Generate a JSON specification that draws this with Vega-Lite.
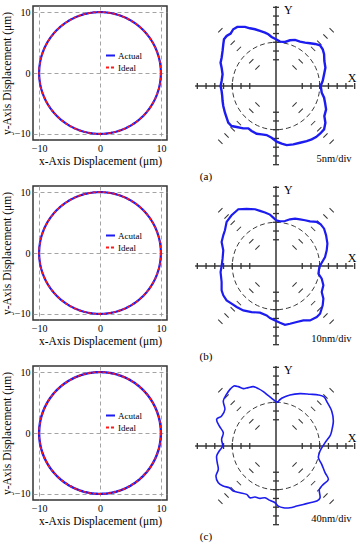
{
 "$schema": "https://vega.github.io/schema/vega-lite/v6.json",
 "padding": {"left": 0, "top": 4, "right": 0, "bottom": 0},
 "background": "white",
 "datasets": {
  "circle": [{"x":10,"y":0},{"x":9.962,"y":0.872},{"x":9.848,"y":1.736},{"x":9.659,"y":2.588},{"x":9.397,"y":3.42},{"x":9.063,"y":4.226},{"x":8.66,"y":5},{"x":8.192,"y":5.736},{"x":7.66,"y":6.428},{"x":7.071,"y":7.071},{"x":6.428,"y":7.66},{"x":5.736,"y":8.192},{"x":5,"y":8.66},{"x":4.226,"y":9.063},{"x":3.42,"y":9.397},{"x":2.588,"y":9.659},{"x":1.736,"y":9.848},{"x":0.872,"y":9.962},{"x":0,"y":10},{"x":-0.872,"y":9.962},{"x":-1.736,"y":9.848},{"x":-2.588,"y":9.659},{"x":-3.42,"y":9.397},{"x":-4.226,"y":9.063},{"x":-5,"y":8.66},{"x":-5.736,"y":8.192},{"x":-6.428,"y":7.66},{"x":-7.071,"y":7.071},{"x":-7.66,"y":6.428},{"x":-8.192,"y":5.736},{"x":-8.66,"y":5},{"x":-9.063,"y":4.226},{"x":-9.397,"y":3.42},{"x":-9.659,"y":2.588},{"x":-9.848,"y":1.736},{"x":-9.962,"y":0.872},{"x":-10,"y":0},{"x":-9.962,"y":-0.872},{"x":-9.848,"y":-1.736},{"x":-9.659,"y":-2.588},{"x":-9.397,"y":-3.42},{"x":-9.063,"y":-4.226},{"x":-8.66,"y":-5},{"x":-8.192,"y":-5.736},{"x":-7.66,"y":-6.428},{"x":-7.071,"y":-7.071},{"x":-6.428,"y":-7.66},{"x":-5.736,"y":-8.192},{"x":-5,"y":-8.66},{"x":-4.226,"y":-9.063},{"x":-3.42,"y":-9.397},{"x":-2.588,"y":-9.659},{"x":-1.736,"y":-9.848},{"x":-0.872,"y":-9.962},{"x":0,"y":-10},{"x":0.872,"y":-9.962},{"x":1.736,"y":-9.848},{"x":2.588,"y":-9.659},{"x":3.42,"y":-9.397},{"x":4.226,"y":-9.063},{"x":5,"y":-8.66},{"x":5.736,"y":-8.192},{"x":6.428,"y":-7.66},{"x":7.071,"y":-7.071},{"x":7.66,"y":-6.428},{"x":8.192,"y":-5.736},{"x":8.66,"y":-5},{"x":9.063,"y":-4.226},{"x":9.397,"y":-3.42},{"x":9.659,"y":-2.588},{"x":9.848,"y":-1.736},{"x":9.962,"y":-0.872},{"x":10,"y":0}],
  "curveA": [{"x":0,"y":10.68},{"x":0.92,"y":10.16},{"x":2.06,"y":10.08},{"x":3.2,"y":10.46},{"x":4.36,"y":10.54},{"x":5.5,"y":10.16},{"x":6.64,"y":9.92},{"x":7.78,"y":9.78},{"x":8.94,"y":9.62},{"x":10.08,"y":9.32},{"x":10.68,"y":8.4},{"x":11.0,"y":7.26},{"x":11.06,"y":5.72},{"x":11.3,"y":4.2},{"x":11.0,"y":2.68},{"x":10.68,"y":1.14},{"x":10.22,"y":0},{"x":10.46,"y":-1.52},{"x":11.0,"y":-2.68},{"x":11.22,"y":-3.82},{"x":11.46,"y":-5.34},{"x":11.06,"y":-6.88},{"x":11.3,"y":-8.4},{"x":11.0,"y":-9.92},{"x":10.08,"y":-10.92},{"x":9.16,"y":-11.68},{"x":8.16,"y":-12.22},{"x":7.02,"y":-12.6},{"x":5.5,"y":-12.98},{"x":3.96,"y":-13.36},{"x":2.44,"y":-13.52},{"x":1.3,"y":-13.2},{"x":0.16,"y":-12.74},{"x":-1.0,"y":-11.84},{"x":-2.14,"y":-11.22},{"x":-3.28,"y":-11.06},{"x":-4.42,"y":-10.92},{"x":-5.58,"y":-10.3},{"x":-6.34,"y":-9.7},{"x":-7.48,"y":-9.7},{"x":-9.0,"y":-9.38},{"x":-10.16,"y":-9.16},{"x":-10.92,"y":-8.4},{"x":-11.3,"y":-7.26},{"x":-11.68,"y":-6.1},{"x":-12.06,"y":-4.58},{"x":-12.22,"y":-3.44},{"x":-12.3,"y":-2.3},{"x":-12.44,"y":-1.14},{"x":-12.68,"y":0},{"x":-12.44,"y":1.14},{"x":-12.22,"y":2.68},{"x":-12.44,"y":4.2},{"x":-12.68,"y":5.34},{"x":-12.44,"y":6.48},{"x":-12.22,"y":8.02},{"x":-12.06,"y":9.54},{"x":-11.9,"y":10.68},{"x":-11.3,"y":11.46},{"x":-10.38,"y":11.98},{"x":-9.78,"y":12.98},{"x":-8.86,"y":13.52},{"x":-7.1,"y":13.52},{"x":-5.96,"y":13.2},{"x":-4.8,"y":12.98},{"x":-3.66,"y":12.6},{"x":-2.52,"y":12.22},{"x":-1.76,"y":11.84},{"x":-1.0,"y":11.22},{"x":0,"y":10.68}],
  "curveB": [{"x":0,"y":10.46},{"x":0.92,"y":10.22},{"x":2.06,"y":10.3},{"x":3.2,"y":10.68},{"x":4.36,"y":10.84},{"x":5.5,"y":10.68},{"x":6.64,"y":10.46},{"x":7.78,"y":10.22},{"x":9.32,"y":10.08},{"x":10.22,"y":9.54},{"x":11.0,"y":8.54},{"x":11.46,"y":7.02},{"x":11.76,"y":5.12},{"x":11.6,"y":3.58},{"x":11.22,"y":2.06},{"x":10.46,"y":0.76},{"x":9.92,"y":-0.22},{"x":9.7,"y":-1.76},{"x":10.46,"y":-2.9},{"x":10.84,"y":-4.42},{"x":10.46,"y":-5.96},{"x":10.84,"y":-7.48},{"x":10.68,"y":-9.0},{"x":10.08,"y":-10.92},{"x":9.32,"y":-11.68},{"x":7.78,"y":-12.44},{"x":6.26,"y":-12.44},{"x":4.74,"y":-12.82},{"x":3.2,"y":-13.2},{"x":2.06,"y":-13.44},{"x":0.92,"y":-12.98},{"x":-0.22,"y":-12.44},{"x":-1.38,"y":-11.9},{"x":-2.14,"y":-11.3},{"x":-3.66,"y":-10.68},{"x":-5.58,"y":-10.54},{"x":-7.48,"y":-10.16},{"x":-9.0,"y":-9.38},{"x":-10.16,"y":-8.62},{"x":-11.3,"y":-7.86},{"x":-12.06,"y":-6.72},{"x":-12.44,"y":-5.58},{"x":-12.44,"y":-3.66},{"x":-12.68,"y":-1.38},{"x":-12.44,"y":0},{"x":-12.22,"y":1.68},{"x":-12.06,"y":3.58},{"x":-12.44,"y":5.5},{"x":-12.06,"y":7.02},{"x":-11.68,"y":8.16},{"x":-11.3,"y":10.08},{"x":-10.16,"y":11.6},{"x":-8.62,"y":12.98},{"x":-6.72,"y":13.06},{"x":-4.8,"y":12.98},{"x":-3.66,"y":12.6},{"x":-2.52,"y":12.22},{"x":-1.38,"y":11.76},{"x":-0.62,"y":11.06},{"x":0,"y":10.46}],
  "curveC": [{"x":0.3,"y":9.92},{"x":1.3,"y":10.92},{"x":3.2,"y":11.68},{"x":5.5,"y":11.98},{"x":7.78,"y":11.84},{"x":9.7,"y":11.68},{"x":11.0,"y":11.22},{"x":11.76,"y":9.92},{"x":12.74,"y":8.02},{"x":13.12,"y":5.72},{"x":12.74,"y":3.44},{"x":12.36,"y":2.3},{"x":11.22,"y":0.76},{"x":10.08,"y":-1.14},{"x":9.7,"y":-2.68},{"x":10.46,"y":-4.2},{"x":11.22,"y":-6.1},{"x":11.98,"y":-7.64},{"x":10.84,"y":-8.78},{"x":9.92,"y":-9.92},{"x":10.08,"y":-11.84},{"x":9.32,"y":-12.6},{"x":7.78,"y":-12.98},{"x":6.26,"y":-13.36},{"x":4.74,"y":-13.74},{"x":3.2,"y":-14.12},{"x":1.68,"y":-14.12},{"x":0.54,"y":-13.74},{"x":-0.22,"y":-12.98},{"x":-1.38,"y":-12.44},{"x":-2.52,"y":-11.84},{"x":-3.66,"y":-11.98},{"x":-4.8,"y":-11.68},{"x":-5.96,"y":-11.84},{"x":-6.72,"y":-11.06},{"x":-8.24,"y":-10.68},{"x":-9.78,"y":-10.3},{"x":-10.68,"y":-9.54},{"x":-12.06,"y":-9.16},{"x":-13.2,"y":-8.4},{"x":-13.74,"y":-6.88},{"x":-13.2,"y":-5.34},{"x":-13.44,"y":-3.82},{"x":-13.58,"y":-2.3},{"x":-12.98,"y":-1.14},{"x":-12.22,"y":0},{"x":-12.44,"y":1.52},{"x":-12.06,"y":3.06},{"x":-12.98,"y":4.58},{"x":-13.58,"y":6.1},{"x":-12.44,"y":6.88},{"x":-11.68,"y":8.4},{"x":-12.06,"y":10.3},{"x":-11.3,"y":11.84},{"x":-10.38,"y":13.12},{"x":-9.62,"y":13.74},{"x":-8.62,"y":13.58},{"x":-7.48,"y":13.12},{"x":-6.34,"y":13.36},{"x":-5.2,"y":13.58},{"x":-4.04,"y":13.12},{"x":-2.9,"y":12.44},{"x":-1.98,"y":11.68},{"x":-1.0,"y":10.92},{"x":-0.22,"y":10.3},{"x":0.3,"y":9.92}],
  "axes": [{"x":-18.5,"x2":17.7,"y":0,"y2":0},{"x":0,"x2":0,"y":-17.9,"y2":18.3}],
  "xticks": [{"x":-18,"y":0},{"x":-16,"y":0},{"x":-14,"y":0},{"x":-12,"y":0},{"x":-10,"y":0},{"x":-8,"y":0},{"x":-6,"y":0},{"x":6,"y":0},{"x":8,"y":0},{"x":10,"y":0},{"x":12,"y":0},{"x":14,"y":0},{"x":16,"y":0},{"x":18,"y":0}],
  "yticks": [{"x":0,"y":-18},{"x":0,"y":-16},{"x":0,"y":-14},{"x":0,"y":-12},{"x":0,"y":-10},{"x":0,"y":-8},{"x":0,"y":-6},{"x":0,"y":6},{"x":0,"y":8},{"x":0,"y":10},{"x":0,"y":12},{"x":0,"y":14},{"x":0,"y":16},{"x":0,"y":18}],
  "diagA": [{"x":4.24,"y":4.24},{"x":5.66,"y":5.66},{"x":8.49,"y":8.49},{"x":9.9,"y":9.9},{"x":11.31,"y":11.31},{"x":12.73,"y":12.73},{"x":-4.24,"y":-4.24},{"x":-5.66,"y":-5.66},{"x":-8.49,"y":-8.49},{"x":-9.9,"y":-9.9},{"x":-11.31,"y":-11.31},{"x":-12.73,"y":-12.73}],
  "diagB": [{"x":-4.24,"y":4.24},{"x":-5.66,"y":5.66},{"x":-8.49,"y":8.49},{"x":-9.9,"y":9.9},{"x":-11.31,"y":11.31},{"x":-12.73,"y":12.73},{"x":4.24,"y":-4.24},{"x":5.66,"y":-5.66},{"x":8.49,"y":-8.49},{"x":9.9,"y":-9.9},{"x":11.31,"y":-11.31},{"x":12.73,"y":-12.73}],
  "xy": [{"x":17.4,"y":1.9,"t":"X"},{"x":2.8,"y":17.3,"t":"Y"}]
 },
 "spacing": 1,
 "resolve": {"scale": {"color": "independent", "strokeDash": "independent"}, "legend": {"color": "independent", "strokeDash": "independent"}},
 "vconcat": [
  {
   "spacing": 29, "bounds": "flush",
   "title": {"text": "(a)", "orient": "bottom", "anchor": "middle", "frame": "bounds", "offset": 4, "dx": 27},
   "resolve": {"scale": {"color": "independent", "strokeDash": "independent"}, "legend": {"color": "independent", "strokeDash": "independent"}},
   "hconcat": [
    {
     "width": 134, "height": 134,
     "layer": [
      {"data": {"name": "circle"}, "mark": {"type": "line", "strokeWidth": 2.2},
       "encoding": {
        "x": {"field": "x", "type": "quantitative", "scale": {"domain": [-11, 11], "nice": false}, "axis": {"values": [-10,-5,0,5,10], "title": "x-Axis Displacement (μm)"}},
        "y": {"field": "y", "type": "quantitative", "scale": {"domain": [-11, 11], "nice": false}, "axis": {"values": [-10,-5,0,5,10], "title": "y-Axis Displacement (μm)"}},
        "order": {"value": null},
        "color": {"datum": "Actual", "type": "nominal", "scale": {"domain": ["Actual","Ideal"], "range": ["#1c1cf0","#ff1a1a"]}, "legend": {"title": null, "orient": "none", "legendX": 72, "legendY": 44}},
        "strokeDash": {"datum": "Actual", "type": "nominal", "scale": {"domain": ["Actual","Ideal"], "range": [[1,0],[3,2]]}, "legend": {"title": null, "orient": "none", "legendX": 72, "legendY": 44}}
       }},
      {"data": {"name": "circle"}, "mark": {"type": "line", "strokeWidth": 1.6},
       "encoding": {
        "x": {"field": "x", "type": "quantitative"},
        "y": {"field": "y", "type": "quantitative"},
        "order": {"value": null},
        "color": {"datum": "Ideal", "type": "nominal"},
        "strokeDash": {"datum": "Ideal", "type": "nominal"}
       }}
     ]
    },
    {
     "width": 160, "height": 160, "view": {"stroke": null},
     "layer": [
      {"data": {"name": "circle"}, "mark": {"type": "line", "color": "#222", "strokeWidth": 0.9, "strokeDash": [5,3]},
       "encoding": {"x": {"field": "x", "type": "quantitative", "scale": {"domain": [-18.3, 18.3], "nice": false}, "axis": null}, "y": {"field": "y", "type": "quantitative", "scale": {"domain": [-18.3, 18.3], "nice": false}, "axis": null}, "order": {"value": null}}},
      {"data": {"name": "axes"}, "mark": {"type": "rule", "color": "#333", "strokeWidth": 1.5},
       "encoding": {"x": {"field": "x", "type": "quantitative"}, "x2": {"field": "x2"}, "y": {"field": "y", "type": "quantitative"}, "y2": {"field": "y2"}}},
      {"data": {"name": "xticks"}, "mark": {"type": "point", "shape": "stroke", "angle": 90, "size": 36, "color": "#333", "strokeWidth": 1.3, "filled": false, "opacity": 1},
       "encoding": {"x": {"field": "x", "type": "quantitative"}, "y": {"field": "y", "type": "quantitative"}}},
      {"data": {"name": "yticks"}, "mark": {"type": "point", "shape": "stroke", "angle": 0, "size": 36, "color": "#333", "strokeWidth": 1.3, "filled": false, "opacity": 1},
       "encoding": {"x": {"field": "x", "type": "quantitative"}, "y": {"field": "y", "type": "quantitative"}}},
      {"data": {"name": "diagA"}, "mark": {"type": "point", "shape": "stroke", "angle": 45, "size": 36, "color": "#333", "strokeWidth": 1, "filled": false, "opacity": 1},
       "encoding": {"x": {"field": "x", "type": "quantitative"}, "y": {"field": "y", "type": "quantitative"}}},
      {"data": {"name": "diagB"}, "mark": {"type": "point", "shape": "stroke", "angle": -45, "size": 36, "color": "#333", "strokeWidth": 1, "filled": false, "opacity": 1},
       "encoding": {"x": {"field": "x", "type": "quantitative"}, "y": {"field": "y", "type": "quantitative"}}},
      {"data": {"name": "curveA"}, "mark": {"type": "line", "color": "#1c1cf0", "strokeWidth": 2.4},
       "encoding": {"x": {"field": "x", "type": "quantitative"}, "y": {"field": "y", "type": "quantitative"}, "order": {"value": null}}},
      {"data": {"name": "xy"}, "mark": {"type": "text", "fontSize": 12},
       "encoding": {"x": {"field": "x", "type": "quantitative"}, "y": {"field": "y", "type": "quantitative"}, "text": {"field": "t"}}},
      {"data": {"values": [{"x": 17.3, "y": -16.8, "t": "5nm/div"}]}, "mark": {"type": "text", "fontSize": 10.5, "align": "right"},
       "encoding": {"x": {"field": "x", "type": "quantitative"}, "y": {"field": "y", "type": "quantitative"}, "text": {"field": "t"}}}
     ]
    }
   ]
  },
  {
   "spacing": 29, "bounds": "flush",
   "title": {"text": "(b)", "orient": "bottom", "anchor": "middle", "frame": "bounds", "offset": 4, "dx": 27},
   "resolve": {"scale": {"color": "independent", "strokeDash": "independent"}, "legend": {"color": "independent", "strokeDash": "independent"}},
   "hconcat": [
    {
     "width": 134, "height": 134,
     "layer": [
      {"data": {"name": "circle"}, "mark": {"type": "line", "strokeWidth": 2.2},
       "encoding": {
        "x": {"field": "x", "type": "quantitative", "scale": {"domain": [-11, 11], "nice": false}, "axis": {"values": [-10,-5,0,5,10], "title": "x-Axis Displacement (μm)"}},
        "y": {"field": "y", "type": "quantitative", "scale": {"domain": [-11, 11], "nice": false}, "axis": {"values": [-10,-5,0,5,10], "title": "y-Axis Displacement (μm)"}},
        "order": {"value": null},
        "color": {"datum": "Acutal", "type": "nominal", "scale": {"domain": ["Acutal","Ideal"], "range": ["#1c1cf0","#ff1a1a"]}, "legend": {"title": null, "orient": "none", "legendX": 72, "legendY": 44}},
        "strokeDash": {"datum": "Acutal", "type": "nominal", "scale": {"domain": ["Acutal","Ideal"], "range": [[1,0],[3,2]]}, "legend": {"title": null, "orient": "none", "legendX": 72, "legendY": 44}}
       }},
      {"data": {"name": "circle"}, "mark": {"type": "line", "strokeWidth": 1.6},
       "encoding": {
        "x": {"field": "x", "type": "quantitative"},
        "y": {"field": "y", "type": "quantitative"},
        "order": {"value": null},
        "color": {"datum": "Ideal", "type": "nominal"},
        "strokeDash": {"datum": "Ideal", "type": "nominal"}
       }}
     ]
    },
    {
     "width": 160, "height": 160, "view": {"stroke": null},
     "layer": [
      {"data": {"name": "circle"}, "mark": {"type": "line", "color": "#222", "strokeWidth": 0.9, "strokeDash": [5,3]},
       "encoding": {"x": {"field": "x", "type": "quantitative", "scale": {"domain": [-18.3, 18.3], "nice": false}, "axis": null}, "y": {"field": "y", "type": "quantitative", "scale": {"domain": [-18.3, 18.3], "nice": false}, "axis": null}, "order": {"value": null}}},
      {"data": {"name": "axes"}, "mark": {"type": "rule", "color": "#333", "strokeWidth": 1.5},
       "encoding": {"x": {"field": "x", "type": "quantitative"}, "x2": {"field": "x2"}, "y": {"field": "y", "type": "quantitative"}, "y2": {"field": "y2"}}},
      {"data": {"name": "xticks"}, "mark": {"type": "point", "shape": "stroke", "angle": 90, "size": 36, "color": "#333", "strokeWidth": 1.3, "filled": false, "opacity": 1},
       "encoding": {"x": {"field": "x", "type": "quantitative"}, "y": {"field": "y", "type": "quantitative"}}},
      {"data": {"name": "yticks"}, "mark": {"type": "point", "shape": "stroke", "angle": 0, "size": 36, "color": "#333", "strokeWidth": 1.3, "filled": false, "opacity": 1},
       "encoding": {"x": {"field": "x", "type": "quantitative"}, "y": {"field": "y", "type": "quantitative"}}},
      {"data": {"name": "diagA"}, "mark": {"type": "point", "shape": "stroke", "angle": 45, "size": 36, "color": "#333", "strokeWidth": 1, "filled": false, "opacity": 1},
       "encoding": {"x": {"field": "x", "type": "quantitative"}, "y": {"field": "y", "type": "quantitative"}}},
      {"data": {"name": "diagB"}, "mark": {"type": "point", "shape": "stroke", "angle": -45, "size": 36, "color": "#333", "strokeWidth": 1, "filled": false, "opacity": 1},
       "encoding": {"x": {"field": "x", "type": "quantitative"}, "y": {"field": "y", "type": "quantitative"}}},
      {"data": {"name": "curveB"}, "mark": {"type": "line", "color": "#1c1cf0", "strokeWidth": 2.2},
       "encoding": {"x": {"field": "x", "type": "quantitative"}, "y": {"field": "y", "type": "quantitative"}, "order": {"value": null}}},
      {"data": {"name": "xy"}, "mark": {"type": "text", "fontSize": 12},
       "encoding": {"x": {"field": "x", "type": "quantitative"}, "y": {"field": "y", "type": "quantitative"}, "text": {"field": "t"}}},
      {"data": {"values": [{"x": 17.3, "y": -16.8, "t": "10nm/div"}]}, "mark": {"type": "text", "fontSize": 10.5, "align": "right"},
       "encoding": {"x": {"field": "x", "type": "quantitative"}, "y": {"field": "y", "type": "quantitative"}, "text": {"field": "t"}}}
     ]
    }
   ]
  },
  {
   "spacing": 29, "bounds": "flush",
   "title": {"text": "(c)", "orient": "bottom", "anchor": "middle", "frame": "bounds", "offset": 4, "dx": 27},
   "resolve": {"scale": {"color": "independent", "strokeDash": "independent"}, "legend": {"color": "independent", "strokeDash": "independent"}},
   "hconcat": [
    {
     "width": 134, "height": 134,
     "layer": [
      {"data": {"name": "circle"}, "mark": {"type": "line", "strokeWidth": 2.4},
       "encoding": {
        "x": {"field": "x", "type": "quantitative", "scale": {"domain": [-11, 11], "nice": false}, "axis": {"values": [-10,-5,0,5,10], "title": "x-Axis Displacement (μm)"}},
        "y": {"field": "y", "type": "quantitative", "scale": {"domain": [-11, 11], "nice": false}, "axis": {"values": [-10,-5,0,5,10], "title": "y-Axis Displacement (μm)"}},
        "order": {"value": null},
        "color": {"datum": "Acutal", "type": "nominal", "scale": {"domain": ["Acutal","Ideal"], "range": ["#1c1cf0","#ff1a1a"]}, "legend": {"title": null, "orient": "none", "legendX": 72, "legendY": 44}},
        "strokeDash": {"datum": "Acutal", "type": "nominal", "scale": {"domain": ["Acutal","Ideal"], "range": [[1,0],[3,2]]}, "legend": {"title": null, "orient": "none", "legendX": 72, "legendY": 44}}
       }},
      {"data": {"name": "circle"}, "mark": {"type": "line", "strokeWidth": 1.6},
       "encoding": {
        "x": {"field": "x", "type": "quantitative"},
        "y": {"field": "y", "type": "quantitative"},
        "order": {"value": null},
        "color": {"datum": "Ideal", "type": "nominal"},
        "strokeDash": {"datum": "Ideal", "type": "nominal"}
       }}
     ]
    },
    {
     "width": 160, "height": 160, "view": {"stroke": null},
     "layer": [
      {"data": {"name": "circle"}, "mark": {"type": "line", "color": "#222", "strokeWidth": 0.9, "strokeDash": [5,3]},
       "encoding": {"x": {"field": "x", "type": "quantitative", "scale": {"domain": [-18.3, 18.3], "nice": false}, "axis": null}, "y": {"field": "y", "type": "quantitative", "scale": {"domain": [-18.3, 18.3], "nice": false}, "axis": null}, "order": {"value": null}}},
      {"data": {"name": "axes"}, "mark": {"type": "rule", "color": "#333", "strokeWidth": 1.5},
       "encoding": {"x": {"field": "x", "type": "quantitative"}, "x2": {"field": "x2"}, "y": {"field": "y", "type": "quantitative"}, "y2": {"field": "y2"}}},
      {"data": {"name": "xticks"}, "mark": {"type": "point", "shape": "stroke", "angle": 90, "size": 36, "color": "#333", "strokeWidth": 1.3, "filled": false, "opacity": 1},
       "encoding": {"x": {"field": "x", "type": "quantitative"}, "y": {"field": "y", "type": "quantitative"}}},
      {"data": {"name": "yticks"}, "mark": {"type": "point", "shape": "stroke", "angle": 0, "size": 36, "color": "#333", "strokeWidth": 1.3, "filled": false, "opacity": 1},
       "encoding": {"x": {"field": "x", "type": "quantitative"}, "y": {"field": "y", "type": "quantitative"}}},
      {"data": {"name": "diagA"}, "mark": {"type": "point", "shape": "stroke", "angle": 45, "size": 36, "color": "#333", "strokeWidth": 1, "filled": false, "opacity": 1},
       "encoding": {"x": {"field": "x", "type": "quantitative"}, "y": {"field": "y", "type": "quantitative"}}},
      {"data": {"name": "diagB"}, "mark": {"type": "point", "shape": "stroke", "angle": -45, "size": 36, "color": "#333", "strokeWidth": 1, "filled": false, "opacity": 1},
       "encoding": {"x": {"field": "x", "type": "quantitative"}, "y": {"field": "y", "type": "quantitative"}}},
      {"data": {"name": "curveC"}, "mark": {"type": "line", "color": "#1c1cf0", "strokeWidth": 1.6, "interpolate": "cardinal"},
       "encoding": {"x": {"field": "x", "type": "quantitative"}, "y": {"field": "y", "type": "quantitative"}, "order": {"value": null}}},
      {"data": {"name": "xy"}, "mark": {"type": "text", "fontSize": 12},
       "encoding": {"x": {"field": "x", "type": "quantitative"}, "y": {"field": "y", "type": "quantitative"}, "text": {"field": "t"}}},
      {"data": {"values": [{"x": 17.3, "y": -16.8, "t": "40nm/div"}]}, "mark": {"type": "text", "fontSize": 10.5, "align": "right"},
       "encoding": {"x": {"field": "x", "type": "quantitative"}, "y": {"field": "y", "type": "quantitative"}, "text": {"field": "t"}}}
     ]
    }
   ]
  }
 ],
 "config": {
  "font": "Liberation Serif",
  "view": {"stroke": "#333", "strokeWidth": 1.5},
  "axis": {"labelColor": "#000", "titleColor": "#000", "labelFontSize": 10, "titleFontSize": 11.5, "titleFontWeight": "normal", "gridColor": "#9a9a9a", "gridDash": [4, 3], "gridWidth": 0.9, "ticks": false, "domain": false, "labelPadding": 3, "titlePadding": 2},
  "legend": {"symbolType": "stroke", "symbolSize": 81, "symbolStrokeWidth": 2, "labelFontSize": 9, "labelColor": "#000", "rowPadding": 1, "labelOffset": 2, "padding": 0},
  "title": {"fontSize": 11, "fontWeight": "normal", "color": "#000"},
  "text": {"color": "#000"}
 }
}
